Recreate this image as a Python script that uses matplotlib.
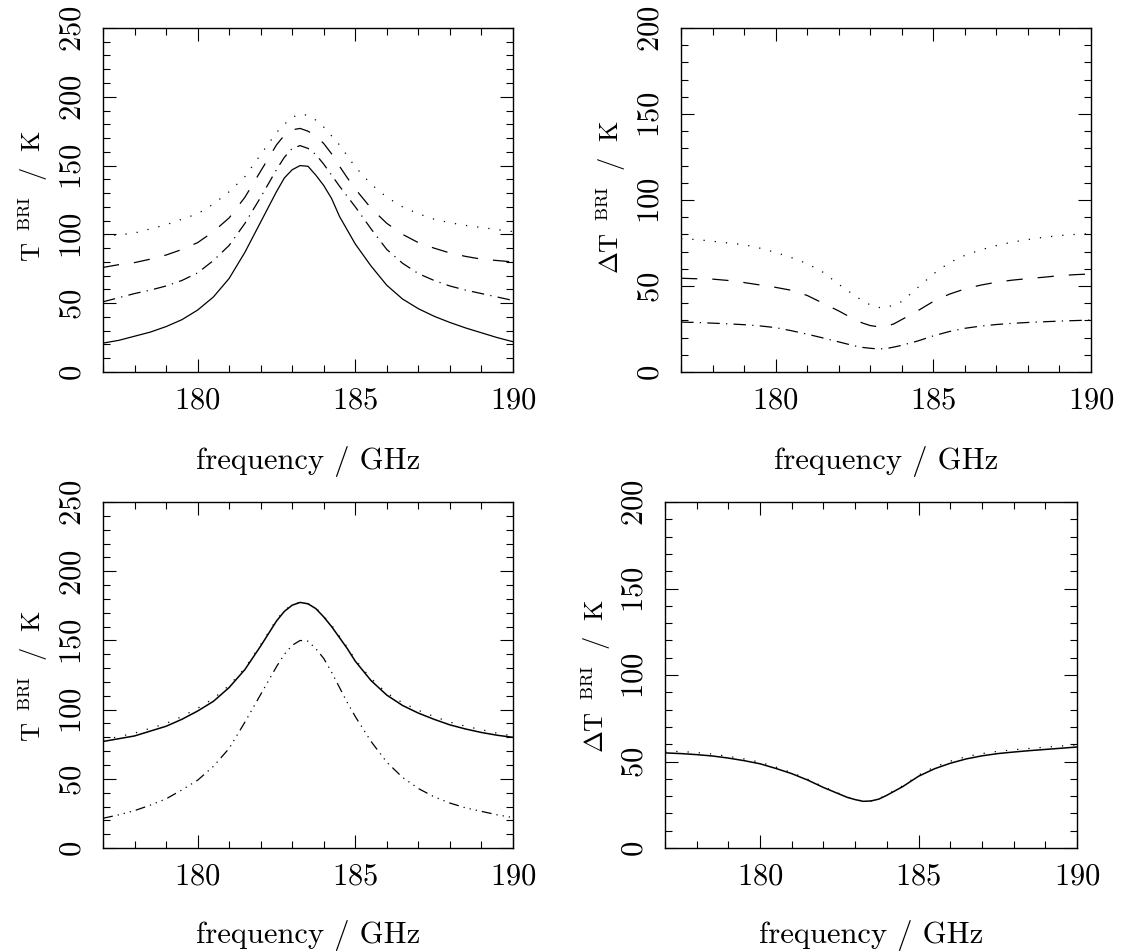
# brightness temperature spectra around the 183 GHz water line
# four panels: T_BRI (left) and delta T_BRI (right)

import numpy as np
import matplotlib
matplotlib.use('Agg')
import matplotlib.pyplot as plt
from matplotlib.ticker import MultipleLocator

plt.rcParams['font.family'] = 'cmr10'
plt.rcParams['mathtext.fontset'] = 'cm'
plt.rcParams['axes.formatter.use_mathtext'] = True
plt.rcParams['axes.unicode_minus'] = False

# frequency grid (GHz)
freq = [177, 177.5, 178, 178.5, 179, 179.5, 180, 180.5, 181, 181.5, 182, 182.5,
        182.75, 183, 183.25, 183.5, 183.75, 184, 184.25, 184.5, 184.75, 185,
        185.5, 186, 186.5, 187, 187.5, 188, 188.5, 189, 189.5, 190]

# top left: T_BRI / K
tl_solid = [21, 23, 26, 29, 33, 38, 45, 54.5, 68, 87, 109, 131,
            141, 147, 150, 149.5, 143, 135.5, 126, 113, 103, 93,
            77, 63, 53, 46, 40.5, 36, 32, 28.5, 25, 22]
tl_dashdot = [51, 54, 57, 59.5, 62.5, 66.5, 72, 81, 92, 108, 127, 147,
              156, 162.5, 164.5, 162.5, 158, 151, 143, 135, 127.5, 120,
              104, 89, 79, 71.5, 66.5, 62.5, 59.5, 57, 54.5, 52]
tl_dashed = [76, 78, 79.5, 82, 85, 89, 94, 102, 112, 127, 146, 165,
             172, 176, 177, 175, 171.5, 166, 158.5, 149.5, 141, 133,
             119, 108, 100, 94, 90, 86.5, 84, 82, 81, 80]
tl_dotted = [99, 99.5, 101, 104, 107, 111, 115, 122, 131, 142, 158, 174,
             180, 185, 187.5, 186.5, 183, 178, 171.5, 165, 157, 149,
             136.5, 127, 120, 115, 111, 108.5, 106.5, 105, 103.5, 102]

# top right: delta T_BRI / K
tr_dotted = [77.5, 77, 76, 75, 74, 72, 69.5, 66.5, 63, 58, 51, 44.5,
             41.5, 39, 37.5, 37.5, 39, 41, 45, 49, 53, 57,
             63.5, 67.8, 71, 73.5, 75.5, 77, 78.3, 79.3, 80, 80.5]
tr_dashed = [54.5, 54.2, 54, 53.2, 52, 50.6, 49.2, 47.5, 44.5, 40, 35.5, 30.5,
             28.5, 27, 26.3, 26.5, 28, 30.5, 33, 35.5, 38.3, 41,
             45.2, 48.3, 50.5, 52.2, 53.4, 54.3, 55.1, 56, 56.6, 57]
tr_dashdot = [29, 28.8, 28.4, 28, 27.5, 26.8, 25.8, 24, 22, 19.8, 17.5, 15.2,
              14.3, 13.8, 13.4, 13.6, 14.5, 15.5, 16.8, 18, 19.5, 21,
              23.5, 25.4, 26.7, 27.6, 28.3, 28.8, 29.2, 29.6, 29.9, 30.2]

# bottom left: T_BRI / K
bl_solid = [77, 79, 81, 84.5, 88, 93, 99, 106, 116, 129, 146, 164,
            171, 175.5, 177.5, 176.5, 173, 167, 160, 152, 144, 135,
            121, 110.5, 103, 97.5, 93, 89, 86, 83.5, 81.5, 80]
bl_dotted = [78, 80.5, 83, 86.5, 90, 95, 101, 108, 117.5, 130, 147, 165,
             171.5, 176, 177.5, 176.5, 173.5, 167.5, 161, 153, 145, 136,
             122.5, 112, 105, 99.5, 95, 91, 88, 85.5, 83, 81]
bl_dash3dot = [21.5, 24, 27, 31, 35.5, 42, 49, 59, 72, 91, 111, 131,
               140, 146.5, 150, 149.5, 144, 137, 127, 116, 105, 95,
               77, 62, 51, 43, 37, 32.5, 29, 26.5, 24, 22]

# bottom right: delta T_BRI / K
br_solid = [55, 54.6, 54, 53.2, 52, 50.5, 48.7, 46, 43, 39.3, 35, 31.2,
            29.3, 28, 27, 27.2, 28.3, 30.5, 33, 35.5, 38.5, 41.5,
            45.8, 49, 51.5, 53.3, 54.6, 55.5, 56.3, 57, 57.7, 58.4]
br_dotted = [56, 55.8, 55.2, 54.3, 53, 51.5, 49.6, 46.8, 43.6, 39.8, 35.4, 31.5,
             29.5, 28.1, 27.1, 27.3, 28.5, 30.8, 33.4, 36, 39, 42.2,
             46.8, 50.2, 52.8, 54.6, 55.9, 56.8, 57.6, 58.3, 59, 59.6]

# line styles
dotted = (0, (1, 8))
dashed = (0, (13, 12))
dashdot = (0, (10, 5, 1, 5))
dash3dot = (0, (8, 4, 1, 4, 1, 4, 1, 4))
lw = 0.9

fig = plt.figure(figsize=(11.22, 9.53), dpi=100)
ax_tl = fig.add_axes([0.0918, 0.6086, 0.3654, 0.361])
ax_tr = fig.add_axes([0.6070, 0.6086, 0.3654, 0.361])
ax_bl = fig.add_axes([0.0918, 0.1091, 0.3654, 0.363])
ax_br = fig.add_axes([0.5927, 0.1091, 0.3672, 0.363])

x = np.array(freq)

ax_tl.plot(x, tl_solid, color='k', lw=lw, ls='-')
ax_tl.plot(x, tl_dashdot, color='k', lw=lw, ls=dashdot)
ax_tl.plot(x, tl_dashed, color='k', lw=lw, ls=dashed)
ax_tl.plot(x, tl_dotted, color='k', lw=lw, ls=dotted)

ax_tr.plot(x, tr_dotted, color='k', lw=lw, ls=dotted)
ax_tr.plot(x, tr_dashed, color='k', lw=lw, ls=dashed)
ax_tr.plot(x, tr_dashdot, color='k', lw=lw, ls=dashdot)

ax_bl.plot(x, bl_dotted, color='k', lw=lw, ls=dotted)
ax_bl.plot(x, bl_solid, color='k', lw=1.1, ls='-')
ax_bl.plot(x, bl_dash3dot, color='k', lw=lw, ls=dash3dot)

ax_br.plot(x, br_dotted, color='k', lw=lw, ls=dotted)
ax_br.plot(x, br_solid, color='k', lw=1.1, ls='-')

lab_T = r'$\mathrm{T}^{\ \ \mathrm{BRI}}\ \ /\ \ \mathrm{K}$'
lab_dT = r'$\Delta\mathrm{T}^{\ \ \mathrm{BRI}}\ \ /\ \ \mathrm{K}$'

for ax, ytop, ylab in [(ax_tl, 250, lab_T), (ax_tr, 200, lab_dT),
                       (ax_bl, 250, lab_T), (ax_br, 200, lab_dT)]:
    ax.set_xlim(177, 190)
    ax.set_ylim(0, ytop)
    ax.xaxis.set_major_locator(MultipleLocator(5))
    ax.xaxis.set_minor_locator(MultipleLocator(1))
    ax.yaxis.set_major_locator(MultipleLocator(50))
    ax.yaxis.set_minor_locator(MultipleLocator(10))
    ax.tick_params(which='both', direction='in', top=True, right=True,
                   width=0.8, color='k')
    ax.tick_params(which='major', length=9.4)
    ax.tick_params(which='minor', length=5)
    ax.tick_params(axis='x', labelsize=22, pad=10)
    ax.tick_params(axis='y', labelsize=22, pad=12, labelrotation=90)
    for lbl in ax.get_yticklabels():
        lbl.set_va('center')
    for s in ax.spines.values():
        s.set_linewidth(1.0)
    ax.set_xlabel('frequency / GHz', fontsize=22)
    ax.set_ylabel(ylab, fontsize=19)

ax_tl.xaxis.set_label_coords(0.5, -0.212)
ax_tr.xaxis.set_label_coords(0.5, -0.212)
ax_bl.xaxis.set_label_coords(0.5, -0.205)
ax_br.xaxis.set_label_coords(0.5, -0.205)
ax_tl.yaxis.set_label_coords(-0.13, 0.515)
ax_tr.yaxis.set_label_coords(-0.13, 0.51)
ax_bl.yaxis.set_label_coords(-0.13, 0.5)
ax_br.yaxis.set_label_coords(-0.127, 0.5)

plt.savefig('out.png', dpi=100)
